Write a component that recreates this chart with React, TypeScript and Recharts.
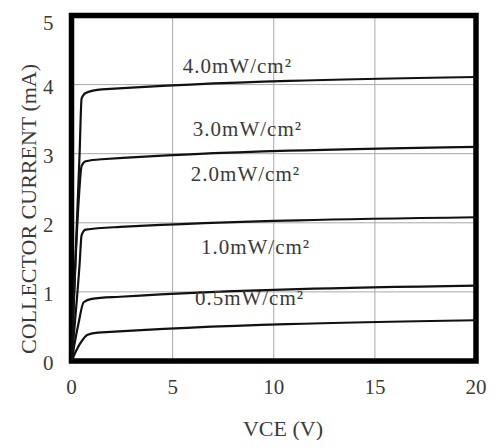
import { LineChart, Line, XAxis, YAxis, CartesianGrid, ReferenceArea, ReferenceDot, Label } from 'recharts';

const xTicks = [0, 5, 10, 15, 20];
const yTicks = [0, 1, 2, 3, 4, 5];

// collector current curves (VCE in V, IC in mA)
const vce40 = [0, 0.4, 0.5, 0.7, 1.5, 20];
const ic40 = [0, 3.0, 3.8, 3.88, 3.93, 4.11];
const vce30 = [0, 0.35, 0.5, 0.7, 1.5, 20];
const ic30 = [0, 2.3, 2.82, 2.89, 2.92, 3.1];
const vce20 = [0, 0.4, 0.5, 0.7, 2.4, 20];
const ic20 = [0, 1.4, 1.82, 1.9, 1.94, 2.08];
const vce10 = [0, 0.35, 0.6, 1.0, 2.4, 20];
const ic10 = [0, 0.55, 0.85, 0.9, 0.93, 1.09];
const vce05 = [0, 0.4, 0.8, 1.3, 20];
const ic05 = [0, 0.24, 0.38, 0.41, 0.59];

const curveLabels = ['4.0mW/cm²', '3.0mW/cm²', '2.0mW/cm²', '1.0mW/cm²', '0.5mW/cm²'];
const labelVce = [8.2, 8.7, 8.6, 9.1, 8.8];
const labelIc = [4.28, 3.36, 2.72, 1.66, 0.92];

const toPoints = (vs: number[], is: number[]) => vs.map((v, k) => ({ vce: v, ic: is[k] }));

const series = [
  toPoints(vce40, ic40),
  toPoints(vce30, ic30),
  toPoints(vce20, ic20),
  toPoints(vce10, ic10),
  toPoints(vce05, ic05),
];

const font = "'Liberation Serif', serif";
const textColor = '#3a3a3a';
const textStyle = { fontFamily: font };

export default function App() {
  return (
    <div style={{ fontFamily: font }}>
      <LineChart width={482} height={432} margin={{ top: 7.5, right: 14, left: 0, bottom: 0 }}>
        <CartesianGrid stroke="#a8a8a8" strokeWidth={1} />
        <XAxis
          dataKey="vce"
          type="number"
          domain={[0, 20]}
          ticks={xTicks}
          allowDataOverflow
          axisLine={false}
          tickLine={false}
          tickMargin={12}
          height={79}
          tick={{ fontSize: 21, fill: textColor, style: textStyle }}
        >
          <Label
            content={() => (
              <text x={275} y={428} textAnchor="middle" fontSize={22} fill={textColor} style={textStyle}>
                VCE (V)
              </text>
            )}
          />
        </XAxis>
        <YAxis
          type="number"
          domain={[0, 5]}
          ticks={yTicks}
          allowDataOverflow
          axisLine={false}
          tickLine={false}
          tickMargin={12}
          width={63.5}
          tick={{ fontSize: 21, fill: textColor, style: textStyle, dy: 2 }}
        >
          <Label
            content={() => (
              <text
                x={20}
                y={201}
                transform="rotate(-90 20 201)"
                textAnchor="middle"
                dominantBaseline="central"
                fontSize={22}
                fill={textColor}
                style={textStyle}
              >
                COLLECTOR CURRENT (mA)
              </text>
            )}
          />
        </YAxis>
        <ReferenceArea x1={0} x2={20} y1={0} y2={5} fill="none" stroke="#000" strokeWidth={5.5} />
        {series.map((pts, k) => (
          <Line
            key={k}
            data={pts}
            dataKey="ic"
            type="monotone"
            stroke="#111"
            strokeWidth={2.2}
            dot={false}
            activeDot={false}
            isAnimationActive={false}
          />
        ))}
        {curveLabels.map((txt, k) => (
          <ReferenceDot
            key={txt}
            x={labelVce[k]}
            y={labelIc[k]}
            r={0}
            fill="none"
            stroke="none"
            label={{ value: txt, position: 'center', fontSize: 21, fill: textColor, style: textStyle, letterSpacing: 1 }}
          />
        ))}
      </LineChart>
    </div>
  );
}
